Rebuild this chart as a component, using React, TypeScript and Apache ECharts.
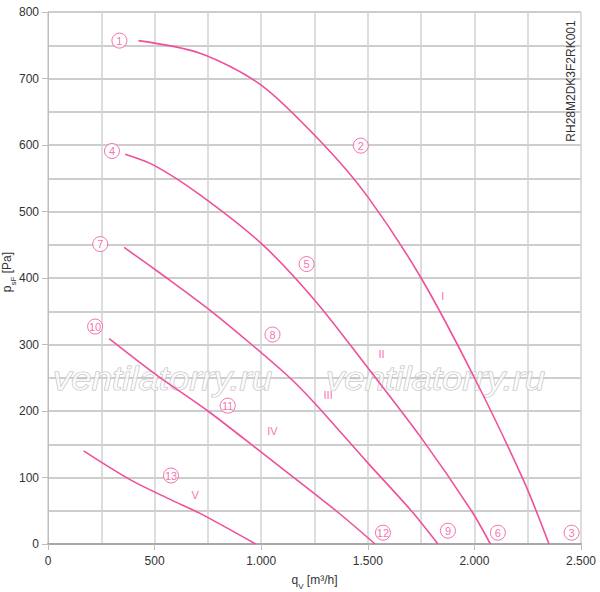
import React, { useEffect, useRef } from "react";
import * as echarts from "echarts";

// ---- data ----
const xTickValues = [0, 500, 1000, 1500, 2000, 2500];
const xTickLabels = ["0", "500", "1.000", "1.500", "2.000", "2.500"];
const yTickValues = [0, 100, 200, 300, 400, 500, 600, 700, 800];

const curveI = [
  [424, 757], [713, 738], [1000, 690], [1294, 600], [1500, 522],
  [1750, 400], [2000, 250], [2230, 96], [2350, 0],
];
const curveII = [
  [362, 586], [500, 569], [713, 525], [1000, 452], [1250, 367],
  [1500, 265], [1750, 160], [1986, 50], [2075, 0],
];
const curveIII = [
  [357, 446], [557, 400], [750, 354], [955, 300], [1134, 250], [1250, 212],
  [1500, 122], [1704, 50], [1829, 0],
];
const curveIV = [
  [287, 309], [518, 252], [750, 200], [1000, 138], [1351, 50], [1534, 0],
];
const curveV = [
  [167, 140], [389, 96], [580, 66], [713, 46], [974, 0],
];

const circleLabels = ["1", "2", "3", "4", "5", "6", "7", "8", "9", "10", "11", "12", "13"];
const circleX = [335, 1467, 2456, 300, 1213, 2110, 245, 1053, 1876, 221, 843, 1571, 577];
const circleY = [757, 599, 17, 591, 421, 17, 451, 315, 20, 327, 208, 17, 103];

const romanLabels = ["I", "II", "III", "IV", "V"];
const romanX = [1852, 1564, 1314, 1053, 690];
const romanY = [373, 285, 224, 170, 74];

const modelCode = "RH28M2DK3F2RK001";
const watermarkText = "ventilatorry.ru";
const yAxisTitle = "{a|p}{b|sF}{a| [Pa]}";
const xAxisTitle = "{a|q}{b|V}{a| [m³/h]}";

const PINK = "#ef4f9b";
const FONT = "'Liberation Sans', Arial, Helvetica, sans-serif";

export default function App() {
  const ref = useRef<HTMLDivElement>(null);

  useEffect(() => {
    if (!ref.current) return;
    const chart = echarts.init(ref.current, undefined, { renderer: "svg" });

    const curves = [curveI, curveII, curveIII, curveIV, curveV];
    const richName = {
      a: { fontSize: 12, fill: "#333", color: "#333", fontFamily: FONT, lineHeight: 16, verticalAlign: "top" },
      b: { fontSize: 8, fill: "#333", color: "#333", fontFamily: FONT, lineHeight: 8, padding: [8, 0, 0, 0], verticalAlign: "top" },
    };

    const wm = (x: number) => ({
      type: "text",
      z: 1,
      x,
      y: 378,
      scaleX: 1.11,
      style: {
        text: watermarkText,
        font: `italic 33px ${FONT}`,
        fill: "rgba(255,255,255,0.75)",
        stroke: "#bdbdbd",
        lineWidth: 1,
        verticalAlign: "middle",
        align: "left",
      },
    });

    const option: any = {
      animation: false,
      backgroundColor: "#fff",
      textStyle: { fontFamily: FONT },
      grid: { left: 48, right: 19, top: 12, bottom: 48, containLabel: false, outerBoundsMode: "none" },
      xAxis: {
        type: "value",
        min: 0,
        max: 2500,
        interval: 500,
        name: xAxisTitle,
        nameLocation: "middle",
        nameGap: 30,
        nameTextStyle: { rich: richName },
        axisLine: { show: true, lineStyle: { color: "#a8a8a8", width: 2 } },
        axisTick: { show: true, length: 6, lineStyle: { color: "#bbb" } },
        axisLabel: {
          color: "#333",
          fontSize: 12,
          fontFamily: FONT,
          margin: 11,
          formatter: (v: number) => {
            const i = xTickValues.indexOf(v);
            return i >= 0 ? xTickLabels[i] : "";
          },
        },
        splitLine: { show: true, lineStyle: { color: "#d2d2d2", width: 1.5 } },
        minorTick: { show: false, splitNumber: 2 },
        minorSplitLine: { show: true, lineStyle: { color: "#d2d2d2", width: 1.5 } },
      },
      yAxis: {
        type: "value",
        min: 0,
        max: 800,
        interval: 100,
        axisLine: { show: true, lineStyle: { color: "#bdbdbd", width: 1 } },
        axisTick: { show: true, length: 6, lineStyle: { color: "#bdbdbd" } },
        axisLabel: {
          color: "#333",
          fontSize: 12,
          fontFamily: FONT,
          margin: 9,
          formatter: (v: number) => (yTickValues.indexOf(v) >= 0 ? String(v) : ""),
        },
        splitLine: { show: true, lineStyle: { color: "#bdbdbd", width: 1.5 } },
        minorTick: { show: false, splitNumber: 2 },
        minorSplitLine: { show: true, lineStyle: { color: "#bdbdbd", width: 1.5 } },
      },
      graphic: [
        wm(53),
        wm(326),
        {
          type: "text",
          z: 10,
          x: 571,
          y: 81,
          rotation: Math.PI / 2,
          style: {
            text: modelCode,
            fontSize: 12,
            fontFamily: FONT,
            fill: "#333",
            align: "center",
            verticalAlign: "middle",
          },
        },
        {
          type: "text",
          z: 10,
          x: 9,
          y: 272,
          rotation: Math.PI / 2,
          style: {
            text: yAxisTitle,
            rich: richName,
            fill: "#333",
            align: "center",
            verticalAlign: "middle",
          },
        },
      ],
      series: [
        ...curves.map((c) => ({
          type: "line",
          data: c,
          smooth: 0.3,
          symbol: "none",
          z: 3,
          lineStyle: { color: PINK, width: 1.6 },
        })),
        {
          type: "scatter",
          z: 5,
          symbol: "circle",
          symbolSize: 15,
          itemStyle: { color: "#fff", borderColor: PINK, borderWidth: 1 },
          label: {
            show: true,
            position: "inside",
            color: PINK,
            fontSize: 11,
            fontFamily: FONT,
            formatter: (p: any) => p.data[2],
          },
          data: circleLabels.map((l, i) => [circleX[i], circleY[i], l]),
        },
        {
          type: "scatter",
          z: 5,
          symbol: "circle",
          symbolSize: 1,
          itemStyle: { color: "rgba(0,0,0,0)" },
          label: {
            show: true,
            position: "inside",
            color: PINK,
            fontSize: 11,
            fontFamily: FONT,
            formatter: (p: any) => p.data[2],
          },
          data: romanLabels.map((l, i) => [romanX[i], romanY[i], l]),
        },
      ],
    };

    chart.setOption(option);
    return () => chart.dispose();
  }, []);

  return (
    <div
      ref={ref}
      style={{ position: "absolute", left: 0, top: 0, width: 600, height: 592 }}
    />
  );
}
